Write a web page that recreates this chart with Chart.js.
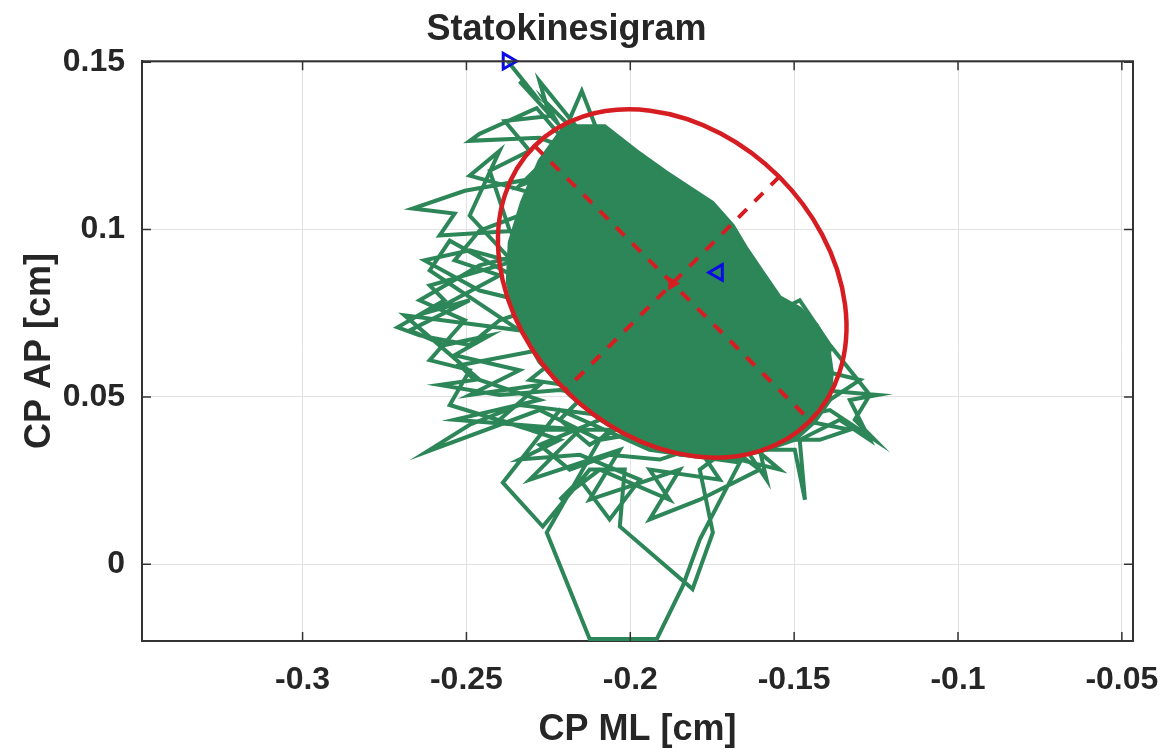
<!DOCTYPE html>
<html>
<head>
<meta charset="utf-8">
<title>Statokinesigram</title>
<script src="https://cdn.jsdelivr.net/npm/chart.js@4.4.0/dist/chart.umd.min.js"></script>
<style>
  body { margin: 0; background: #fff; }
  #wrap { width: 1173px; height: 756px; }
</style>
</head>
<body>
<div id="wrap"><canvas id="myChart" width="1173" height="756"></canvas></div>
<script>
// CP trace, ML (x) and AP (y), cm
const traceML = [
  -0.2374, -0.2301, -0.2338, -0.2222, -0.2261, -0.2139, -0.2185, -0.2148, -0.2103, -0.2032,
  -0.2170, -0.2277, -0.2490, -0.2460, -0.2286, -0.2200, -0.2338, -0.2215, -0.2063, -0.2246,
  -0.2505, -0.2664, -0.2536, -0.2582, -0.2338, -0.2093, -0.1910, -0.1971, -0.2215, -0.2368,
  -0.2612, -0.2567, -0.2710, -0.2643, -0.2490, -0.2399, -0.2215, -0.2032, -0.1788, -0.1849,
  -0.2093, -0.2338, -0.2460, -0.2628, -0.2490, -0.2261, -0.1971, -0.1788, -0.1666, -0.1788,
  -0.2032, -0.2277, -0.2521, -0.2475, -0.2582, -0.2399, -0.2215, -0.2032, -0.1849, -0.1605,
  -0.1483, -0.1605, -0.1849, -0.2093, -0.2338, -0.2490, -0.2622, -0.2277, -0.2093, -0.1910,
  -0.1727, -0.1513, -0.1391, -0.1422, -0.1245, -0.1330, -0.1269, -0.1361, -0.1483, -0.1467,
  -0.1498, -0.1605, -0.1584, -0.1666, -0.1788, -0.1748, -0.1810, -0.2032, -0.2017, -0.2124,
  -0.2267, -0.2389, -0.2215, -0.1941, -0.1666, -0.1788, -0.1840, -0.1919, -0.2124, -0.2255,
  -0.2093, -0.1971, -0.1788, -0.1605, -0.1483, -0.1391, -0.1269, -0.1315, -0.1254, -0.1391,
  -0.1544, -0.1727, -0.1910, -0.2063, -0.2185, -0.2277, -0.2093, -0.1849, -0.1666, -0.1727,
  -0.1910, -0.2093, -0.2277, -0.2368, -0.2215, -0.2032, -0.1910, -0.1788, -0.1971, -0.2154,
  -0.2307, -0.2093, -0.1880, -0.1696, -0.1574, -0.1727, -0.1941, -0.2124, -0.2215, -0.2032,
  -0.1819, -0.1666, -0.1605, -0.1788, -0.1941, -0.2063, -0.1910, -0.1788,
  -0.2093, -0.2338, -0.2460, -0.2536, -0.2399, -0.2597, -0.2490, -0.2673, -0.2567, -0.2429,
  -0.2536, -0.2338, -0.2490, -0.2277, -0.2399, -0.2215, -0.2338, -0.2154, -0.1971, -0.2063,
  -0.2154, -0.2215, -0.2093, -0.1880, -0.1941, -0.1727, -0.1788, -0.1544, -0.1651, -0.1422,
  -0.1330, -0.1483, -0.1299, -0.1422, -0.1666, -0.1910, -0.2154, -0.2368, -0.2429, -0.2307,
  -0.2383, -0.2246, -0.2277, -0.2154, -0.1941, -0.2063, -0.2277, -0.2460, -0.2643, -0.2505,
  -0.2612, -0.2490, -0.2551, -0.2307, -0.2032, -0.1819, -0.1666, -0.1788,
  -0.2215, -0.2490, -0.2399, -0.2490, -0.2277, -0.2551, -0.2612, -0.2338, -0.2689, -0.2460,
  -0.2277, -0.2536, -0.2154, -0.2307, -0.2032, -0.2124, -0.1849, -0.1941, -0.1788, -0.1605,
  -0.1727, -0.1941, -0.1788,
  -0.1733
];
const traceAP = [
  0.1503, 0.1414, 0.1443, 0.1318, 0.1384, 0.1265, 0.1330, 0.1414, 0.1301, 0.1235,
  0.1235, 0.1274, 0.1265, 0.1286, 0.1363, 0.1265, 0.1131, 0.1176, 0.1086, 0.1161,
  0.1116, 0.1063, 0.1048, 0.0982, 0.0997, 0.1027, 0.1116, 0.0967, 0.0908, 0.0902,
  0.0833, 0.0789, 0.0708, 0.0684, 0.0655, 0.0729, 0.0789, 0.0848, 0.0938, 0.0789,
  0.0699, 0.0789, 0.0818, 0.0908, 0.0938, 0.0878, 0.0789, 0.0729, 0.0818, 0.0640,
  0.0610, 0.0640, 0.0595, 0.0551, 0.0536, 0.0506, 0.0521, 0.0491, 0.0551, 0.0610,
  0.0699, 0.0521, 0.0432, 0.0446, 0.0476, 0.0417, 0.0336, 0.0461, 0.0372, 0.0402,
  0.0461, 0.0551, 0.0640, 0.0521, 0.0506, 0.0491, 0.0372, 0.0432, 0.0372, 0.0193,
  0.0342, 0.0342, 0.0253, 0.0372, 0.0283, 0.0095, -0.0074, 0.0113, 0.0283, 0.0283,
  0.0113, 0.0244, 0.0461, 0.0342, 0.0304, 0.0074, -0.0065, -0.0223, -0.0223, 0.0095,
  0.0372, 0.0491, 0.0610, 0.0729, 0.0789, 0.0655, 0.0506, 0.0432, 0.0372, 0.0461,
  0.0432, 0.0372, 0.0313, 0.0327, 0.0283, 0.0357, 0.0432, 0.0640, 0.0908, 0.1042,
  0.0938, 0.0789, 0.0699, 0.0818, 0.1027, 0.1176, 0.1131, 0.1057, 0.0848, 0.0670,
  0.0551, 0.0521, 0.0699, 0.0848, 0.0789, 0.0610, 0.0461, 0.0357, 0.0432, 0.0610,
  0.0818, 0.0967, 0.0848, 0.0699, 0.0640, 0.0699, 0.0878, 0.0997,
  0.0938, 0.1042, 0.0997, 0.0908, 0.0863, 0.0759, 0.0789, 0.0699, 0.0655, 0.0684,
  0.0625, 0.0580, 0.0506, 0.0536, 0.0432, 0.0372, 0.0313, 0.0327, 0.0253, 0.0134,
  0.0253, 0.0193, 0.0283, 0.0193, 0.0283, 0.0253, 0.0342, 0.0283, 0.0372, 0.0372,
  0.0402, 0.0432, 0.0551, 0.0580, 0.0491, 0.0551, 0.0729, 0.0997, 0.1176, 0.1235,
  0.1324, 0.1339, 0.1443, 0.1295, 0.1146, 0.0967, 0.0938, 0.0893, 0.0789, 0.0729,
  0.0610, 0.0580, 0.0476, 0.0402, 0.0402, 0.0491, 0.0699, 0.0848,
  0.1086, 0.1161, 0.1235, 0.1042, 0.0818, 0.0967, 0.0878, 0.0699, 0.0744, 0.0551,
  0.0491, 0.0432, 0.0402, 0.0253, 0.0342, 0.0193, 0.0283, 0.0134, 0.0193, 0.0283,
  0.0372, 0.0789, 0.0908,
  0.0872
];

// outline of the dense part of the trace (where the lines overlap completely)
const coreML = [
  -0.2200, -0.2078, -0.1982, -0.1889, -0.1749, -0.1687, -0.1645, -0.1596, -0.1544, -0.1483,
  -0.1431, -0.1397, -0.1385, -0.1391, -0.1437, -0.1498, -0.1605, -0.1727, -0.1849, -0.1971,
  -0.2093, -0.2185, -0.2277, -0.2344, -0.2374, -0.2368, -0.2331, -0.2277, -0.2200
];
const coreAP = [
  0.1309, 0.1309, 0.1235, 0.1170, 0.1080, 0.1012, 0.0943, 0.0872, 0.0798, 0.0765,
  0.0714, 0.0655, 0.0574, 0.0491, 0.0426, 0.0372, 0.0336, 0.0318, 0.0327, 0.0363,
  0.0432, 0.0506, 0.0604, 0.0723, 0.0842, 0.0961, 0.1080, 0.1205, 0.1309
];

// confidence ellipse: centre and axis end points
const ellipseCenter = [-0.1872, 0.0839];
const majorAxisML = [-0.2292, -0.1451];
const majorAxisAP = [0.1250, 0.0429];
const minorAxisML = [-0.1545, -0.2198];
const minorAxisAP = [0.1158, 0.0521];

const startPoint = [-0.2374, 0.1503];
const endPoint = [-0.1733, 0.0872];

const xTickValues = [-0.3, -0.25, -0.2, -0.15, -0.1, -0.05];
const xTickLabels = ["-0.3", "-0.25", "-0.2", "-0.15", "-0.1", "-0.05"];
const yTickValues = [0, 0.05, 0.1, 0.15];
const yTickLabels = ["0", "0.05", "0.1", "0.15"];

const green = "rgb(45,134,88)";
const red = "rgb(214,30,34)";
const blue = "rgb(10,10,230)";
const axisColor = "#333333";
const textColor = "#262626";
const fontFamily = "'Liberation Sans', Arial, Helvetica, sans-serif";

const toPoints = (xs, ys) => xs.map((v, i) => ({ x: v, y: ys[i] }));

// ellipse, axis end caps and the MATLAB-style box with inward ticks
const matlabBox = {
  id: "matlabBox",
  afterDatasetsDraw(chart) {
    const { ctx, chartArea: a, scales } = chart;
    const sx = scales.x, sy = scales.y;
    const p = (ml, ap) => [sx.getPixelForValue(ml), sy.getPixelForValue(ap)];

    const c = p(ellipseCenter[0], ellipseCenter[1]);
    const m1 = p(majorAxisML[0], majorAxisAP[0]);
    const m2 = p(majorAxisML[1], majorAxisAP[1]);
    const n1 = p(minorAxisML[0], minorAxisAP[0]);
    const n2 = p(minorAxisML[1], minorAxisAP[1]);
    const ra = Math.hypot(m2[0] - m1[0], m2[1] - m1[1]) / 2;
    const rb = Math.hypot(n2[0] - n1[0], n2[1] - n1[1]) / 2;
    const rot = Math.atan2(m2[1] - m1[1], m2[0] - m1[0]);

    ctx.save();
    ctx.beginPath();
    ctx.rect(a.left, a.top, a.right - a.left, a.bottom - a.top);
    ctx.clip();
    ctx.strokeStyle = red;
    ctx.lineWidth = 4.5;
    ctx.beginPath();
    ctx.ellipse(c[0], c[1], ra, rb, rot, 0, Math.PI * 2);
    ctx.stroke();

    // small caps at the ends of the dashed axes
    ctx.lineWidth = 3;
    [[m1, m2], [n1, n2]].forEach(([e1, e2]) => {
      const len = Math.hypot(e2[0] - e1[0], e2[1] - e1[1]);
      const nx = -(e2[1] - e1[1]) / len * 7;
      const ny = (e2[0] - e1[0]) / len * 7;
      [e1, e2].forEach((e) => {
        ctx.beginPath();
        ctx.moveTo(e[0] - nx, e[1] - ny);
        ctx.lineTo(e[0] + nx, e[1] + ny);
        ctx.stroke();
      });
    });
    ctx.restore();

    ctx.save();
    ctx.strokeStyle = axisColor;
    ctx.lineWidth = 2;
    ctx.beginPath();
    ctx.moveTo(a.left, a.top);
    ctx.lineTo(a.right, a.top);
    ctx.lineTo(a.right, a.bottom);
    ctx.stroke();
    ctx.lineWidth = 1.5;
    const tl = 9;
    xTickValues.forEach((v) => {
      const xp = sx.getPixelForValue(v);
      ctx.beginPath();
      ctx.moveTo(xp, a.bottom);
      ctx.lineTo(xp, a.bottom - tl);
      ctx.moveTo(xp, a.top);
      ctx.lineTo(xp, a.top + tl);
      ctx.stroke();
    });
    yTickValues.forEach((v) => {
      const yp = sy.getPixelForValue(v);
      ctx.beginPath();
      ctx.moveTo(a.left, yp);
      ctx.lineTo(a.left + tl, yp);
      ctx.moveTo(a.right, yp);
      ctx.lineTo(a.right - tl, yp);
      ctx.stroke();
    });
    ctx.restore();
  },
};

const ctx = document.getElementById("myChart");

new Chart(ctx, {
  type: "scatter",
  data: {
    datasets: [
      {
        label: "start",
        data: [{ x: startPoint[0], y: startPoint[1] }],
        pointStyle: "triangle",
        rotation: 90,
        pointRadius: 9,
        borderColor: blue,
        backgroundColor: "rgba(0,0,0,0)",
        borderWidth: 3,
        clip: false,
        order: 0,
      },
      {
        label: "end",
        data: [{ x: endPoint[0], y: endPoint[1] }],
        pointStyle: "triangle",
        rotation: -90,
        pointRadius: 9,
        borderColor: blue,
        backgroundColor: "rgba(0,0,0,0)",
        borderWidth: 3,
        clip: false,
        order: 0,
      },
      {
        label: "centre",
        data: [{ x: ellipseCenter[0], y: ellipseCenter[1] }],
        pointStyle: "triangle",
        rotation: 90,
        pointRadius: 6,
        borderColor: red,
        backgroundColor: red,
        borderWidth: 2,
        order: 1,
      },
      {
        label: "major axis",
        data: toPoints(majorAxisML, majorAxisAP),
        showLine: true,
        borderColor: red,
        borderWidth: 4,
        borderDash: [12, 11],
        pointRadius: 0,
        order: 2,
      },
      {
        label: "minor axis",
        data: toPoints(minorAxisML, minorAxisAP),
        showLine: true,
        borderColor: red,
        borderWidth: 4,
        borderDash: [12, 11],
        pointRadius: 0,
        order: 2,
      },
      {
        label: "CP",
        data: toPoints(traceML, traceAP),
        showLine: true,
        borderColor: green,
        borderWidth: 4,
        pointRadius: 0,
        order: 3,
      },
      {
        label: "CP core",
        data: toPoints(coreML, coreAP),
        showLine: true,
        fill: "shape",
        borderColor: green,
        backgroundColor: green,
        borderWidth: 4,
        pointRadius: 0,
        order: 4,
      },
    ],
  },
  options: {
    responsive: false,
    devicePixelRatio: 1,
    animation: false,
    layout: { padding: { left: 0, right: 40, top: 0, bottom: 0 } },
    plugins: {
      legend: { display: false },
      tooltip: { enabled: false },
      title: {
        display: true,
        text: "Statokinesigram",
        color: textColor,
        font: { family: fontFamily, size: 36, weight: "bold" },
        padding: { top: 8, bottom: 10 },
      },
    },
    scales: {
      x: {
        type: "linear",
        min: -0.349,
        max: -0.0466,
        afterBuildTicks: (s) => {
          s.ticks = xTickValues.map((v) => ({ value: v }));
        },
        afterFit: (s) => {
          s.height = 115;
          s.paddingLeft = 0;
          s.paddingRight = 0;
        },
        grid: { color: "#e2e2e2", lineWidth: 1, drawTicks: false },
        border: { display: true, color: axisColor, width: 2 },
        ticks: {
          padding: 20,
          color: textColor,
          maxRotation: 0,
          autoSkip: false,
          font: { family: fontFamily, size: 32, weight: "bold" },
          callback: (v, i) => xTickLabels[i],
        },
        title: {
          display: true,
          text: "CP ML [cm]",
          color: textColor,
          font: { family: fontFamily, size: 36, weight: "bold" },
          padding: { top: 0, bottom: 4 },
        },
      },
      y: {
        type: "linear",
        min: -0.0229,
        max: 0.1503,
        afterBuildTicks: (s) => {
          s.ticks = yTickValues.map((v) => ({ value: v }));
        },
        afterFit: (s) => {
          s.width = 142;
          s.paddingTop = 0;
          s.paddingBottom = 0;
        },
        grid: { color: "#e2e2e2", lineWidth: 1, drawTicks: false },
        border: { display: true, color: axisColor, width: 2 },
        ticks: {
          padding: 17,
          color: textColor,
          autoSkip: false,
          font: { family: fontFamily, size: 32, weight: "bold" },
          callback: (v, i) => yTickLabels[i],
        },
        title: {
          display: true,
          text: "CP AP [cm]",
          color: textColor,
          font: { family: fontFamily, size: 36, weight: "bold" },
          padding: { top: 18, bottom: 0 },
        },
      },
    },
  },
  plugins: [matlabBox],
});
</script>
</body>
</html>
